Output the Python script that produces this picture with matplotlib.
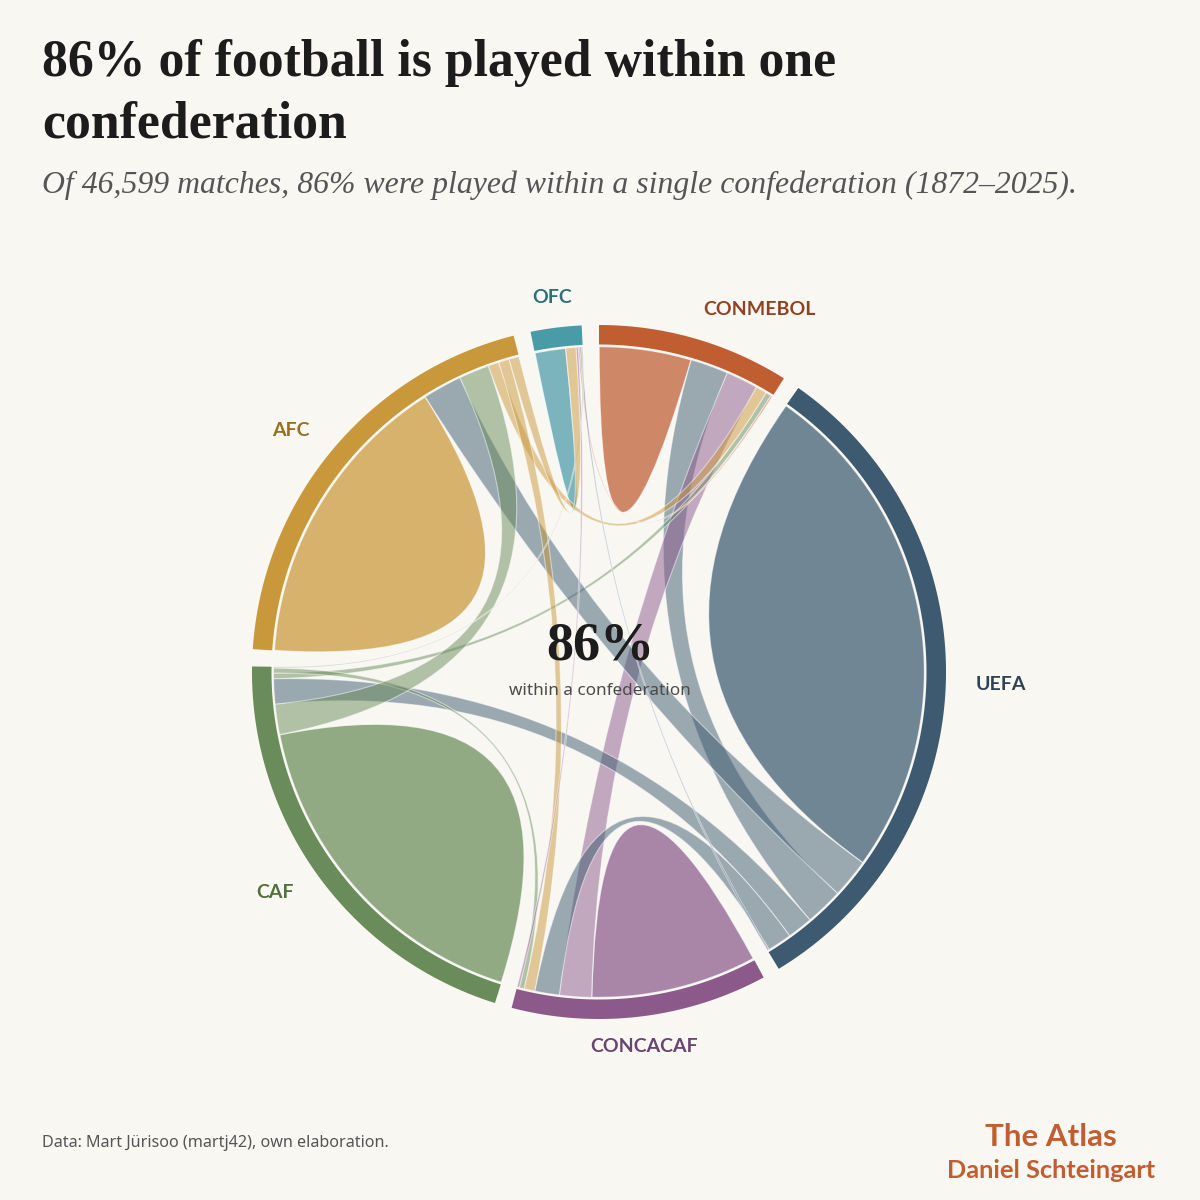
import numpy as np
import matplotlib
matplotlib.use("Agg")
import matplotlib.pyplot as plt
from matplotlib.path import Path
from matplotlib.patches import PathPatch

# ---------------- data ----------------
groups = ["CONMEBOL", "UEFA", "CONCACAF", "CAF", "AFC", "OFC"]
# matches between confederations (diagonal = matches within one confederation)
matches = [
    [2555, 1050, 885, 155, 303, 47],
    [1050, 14093, 680, 700, 1080, 47],
    [885, 680, 4597, 140, 295, 62],
    [155, 700, 140, 9535, 839, 31],
    [303, 1080, 295, 839, 8371, 280],
    [47, 47, 62, 31, 280, 854],
]
arc_colors = ["#C05E32", "#3D5A70", "#8B5A8B", "#6A8C5A", "#C9983A", "#4A9BA8"]
label_colors = ["#8F4322", "#2E4456", "#6A4470", "#52703F", "#9A6E1F", "#2F6F78"]
# chord colour taken from the higher-ranked confederation
color_rank = ["UEFA", "CAF", "AFC", "CONCACAF", "CONMEBOL", "OFC"]

title_lines = ["86% of football is played within one", "confederation"]
subtitle = "Of 46,599 matches, 86% were played within a single confederation (1872\u20132025)."
center_big = "86%"
center_small = "within a confederation"
source = "Data: Mart J\u00fcrisoo (martj42), own elaboration."

BG = "#F9F7F2"
SANS = ["Noto Sans", "DejaVu Sans"]
SANS_B = ["Lato", "DejaVu Sans"]
SERIF = ["Liberation Serif", "DejaVu Serif"]

# ---------------- layout ----------------
M = np.array(matches, dtype=float)
n = len(groups)
pad = 0.05  # radians
k = (2 * np.pi - pad * n) / M.sum()

sub = {}
group_ang = []
x = 0.0
for i in range(n):
    x0 = x
    order = sorted(range(n), key=lambda j: -M[i, j])
    for j in order:
        a0 = x
        x += M[i, j] * k
        sub[(i, j)] = (a0, x)
    group_ang.append((x0, x))
    x += pad

CX, CY = 599.0, 672.0
R_RIB = 325.5
R_IN, R_OUT = 327.5, 347.0


def pt(theta, r):
    return (CX + r * np.sin(theta), CY - r * np.cos(theta))


def arc_pts(t0, t1, r):
    m = max(2, int(abs(t1 - t0) / 0.005) + 2)
    ts = np.linspace(t0, t1, m)
    return [pt(t, r) for t in ts]


fig = plt.figure(figsize=(12, 12), dpi=100, facecolor=BG)
ax = fig.add_axes([0, 0, 1, 1])
ax.set_xlim(0, 1200)
ax.set_ylim(1200, 0)
ax.axis("off")
ax.set_facecolor(BG)


def chord_color(i, j):
    gi, gj = groups[i], groups[j]
    return arc_colors[i] if color_rank.index(gi) <= color_rank.index(gj) else arc_colors[j]


# self chords (petals)
for i in range(n):
    a0, a1 = sub[(i, i)]
    verts = arc_pts(a0, a1, R_RIB)
    codes = [Path.MOVETO] + [Path.LINETO] * (len(verts) - 1)
    verts += [(CX, CY), pt(a0, R_RIB)]
    codes += [Path.CURVE3, Path.CURVE3]
    verts.append((0, 0))
    codes.append(Path.CLOSEPOLY)
    ax.add_patch(PathPatch(Path(verts, codes), facecolor=arc_colors[i], alpha=0.72,
                           edgecolor="white", linewidth=1.0, zorder=2))

# cross chords
for i in range(n):
    for j in range(i + 1, n):
        if M[i, j] <= 0:
            continue
        s0, s1 = sub[(i, j)]
        t0, t1 = sub[(j, i)]
        verts = arc_pts(s0, s1, R_RIB)
        codes = [Path.MOVETO] + [Path.LINETO] * (len(verts) - 1)
        verts += [(CX, CY), pt(t0, R_RIB)]
        codes += [Path.CURVE3, Path.CURVE3]
        tv = arc_pts(t0, t1, R_RIB)
        verts += tv[1:]
        codes += [Path.LINETO] * (len(tv) - 1)
        verts += [(CX, CY), pt(s0, R_RIB)]
        codes += [Path.CURVE3, Path.CURVE3]
        verts.append((0, 0))
        codes.append(Path.CLOSEPOLY)
        ax.add_patch(PathPatch(Path(verts, codes), facecolor=chord_color(i, j), alpha=0.5,
                               edgecolor=(1, 1, 1, 0.7), linewidth=0.8, zorder=3))

# outer arcs and labels
for i in range(n):
    g0, g1 = group_ang[i]
    outer = arc_pts(g0, g1, R_OUT)
    inner = arc_pts(g1, g0, R_IN)
    verts = outer + inner + [(0, 0)]
    codes = [Path.MOVETO] + [Path.LINETO] * (len(outer) + len(inner) - 1) + [Path.CLOSEPOLY]
    ax.add_patch(PathPatch(Path(verts, codes), facecolor=arc_colors[i], edgecolor="none", zorder=4))
    mid = (g0 + g1) / 2
    lx, ly = pt(mid, 377)
    s = np.sin(mid)
    if abs(s) < 0.2:
        ha = "center"
    elif s > 0:
        ha = "left"
    else:
        ha = "right"
    ax.text(lx, ly, groups[i], ha=ha, va="center", fontsize=14, fontweight="bold",
            family=SANS_B, color=label_colors[i], zorder=6)

# centre text
ax.text(600, 647, center_big, ha="center", va="center", fontsize=39, fontweight="bold",
        family=SERIF, color="#1C1C1C", zorder=7)
ax.text(600, 691, center_small, ha="center", va="center", fontsize=12.3,
        family=SANS, color="#4A4A4A", zorder=7)

# titles
fig.text(42 / 1200, 1 - 76 / 1200, title_lines[0], ha="left", va="baseline", fontsize=37.3,
         fontweight="bold", family=SERIF, color="#1C1C1C")
fig.text(42 / 1200, 1 - 137 / 1200, title_lines[1], ha="left", va="baseline", fontsize=37.3,
         fontweight="bold", family=SERIF, color="#1C1C1C")
fig.text(42 / 1200, 1 - 193 / 1200, subtitle, ha="left", va="baseline", fontsize=22.9, style="italic",
         family=SERIF, color="#555555")

# footer
fig.text(42 / 1200, 1 - 1143 / 1200, source, ha="left", va="center", fontsize=11.6,
         family=SANS, color="#555555")
fig.text(1051 / 1200, 1 - 1137 / 1200, "The Atlas", ha="center", va="center", fontsize=22.5,
         fontweight="bold", family=SANS_B, color="#C05E32")
fig.text(1051 / 1200, 1 - 1170 / 1200, "Daniel Schteingart", ha="center", va="center", fontsize=18.3,
         fontweight="bold", family=SANS_B, color="#C05E32")

fig.savefig("out.png", dpi=100, facecolor=BG)
